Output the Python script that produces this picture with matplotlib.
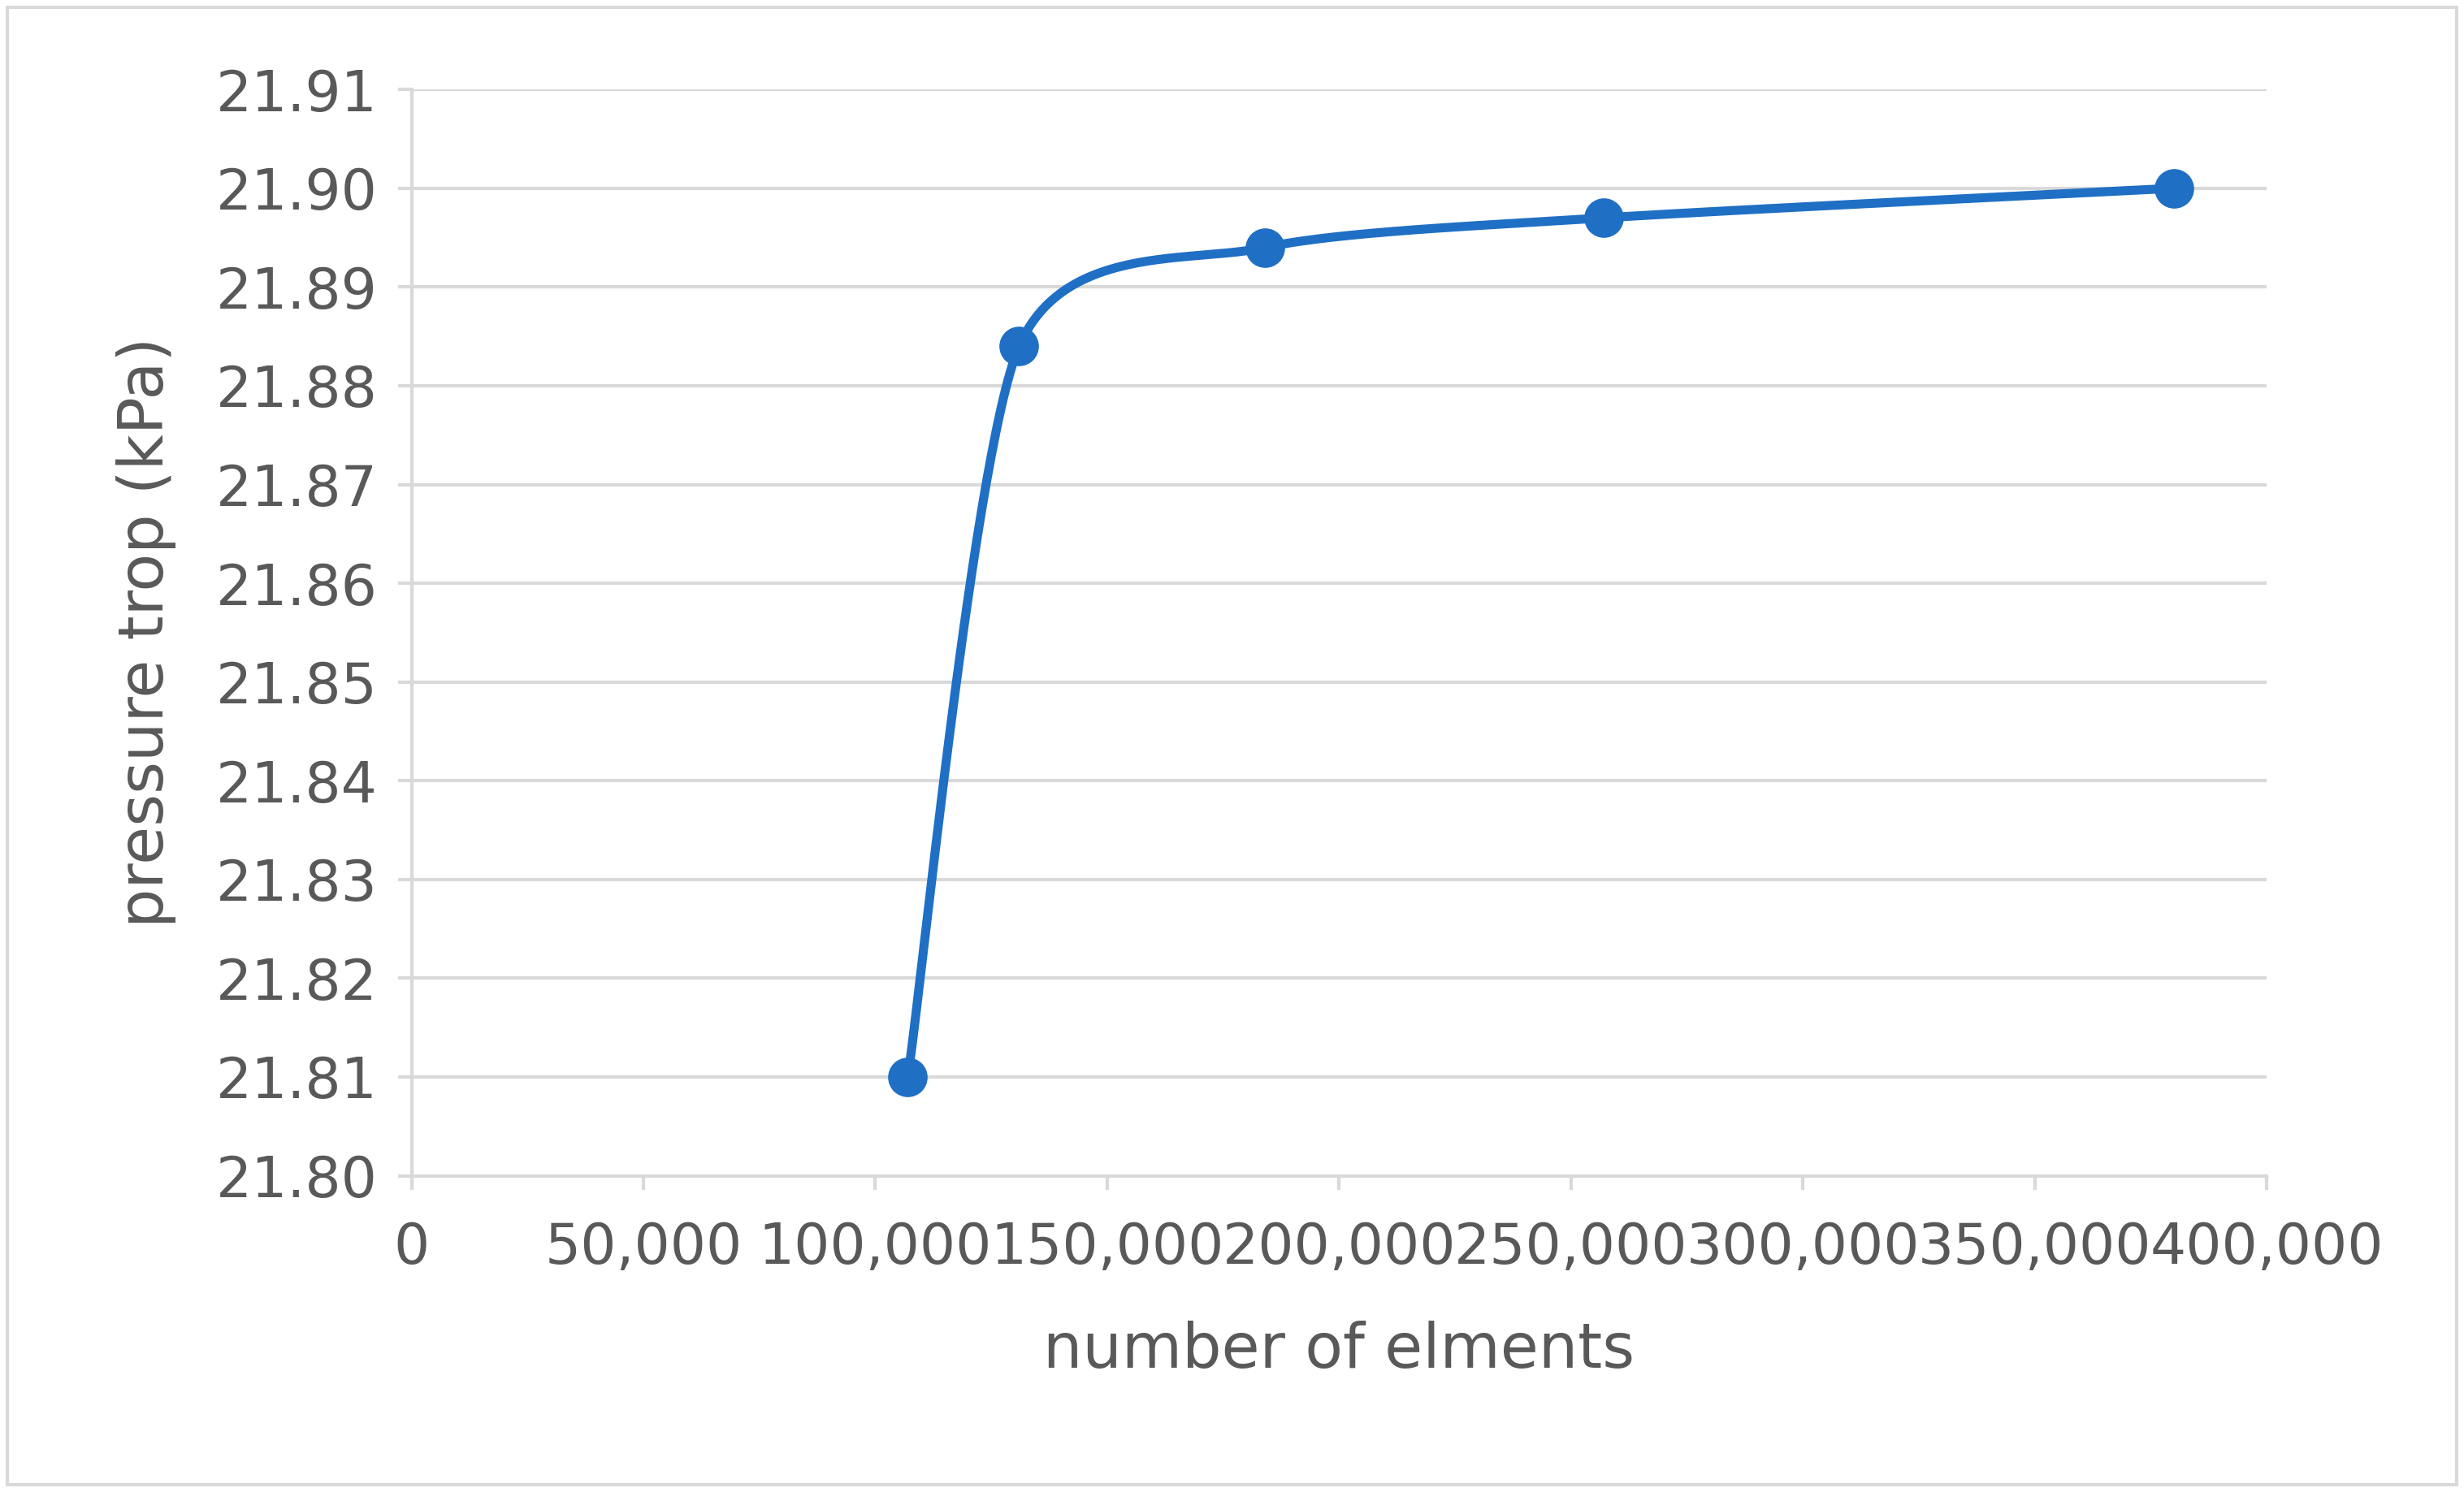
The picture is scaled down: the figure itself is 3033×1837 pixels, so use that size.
import matplotlib
matplotlib.use('Agg')
import matplotlib.pyplot as plt
from matplotlib.ticker import FuncFormatter, MultipleLocator
import numpy as np

elements = [107000, 131000, 184000, 257000, 380000]
pressure = [21.810, 21.884, 21.894, 21.897, 21.900]


def catmull_rom(xs, ys, n=60):
    """Excel-like smoothed line through the points."""
    px = [xs[0]] + list(xs) + [xs[-1]]
    py = [ys[0]] + list(ys) + [ys[-1]]
    out_x, out_y = [], []
    t = np.linspace(0, 1, n)
    for i in range(1, len(px) - 2):
        for p, out in ((px, out_x), (py, out_y)):
            p0, p1, p2, p3 = p[i - 1], p[i], p[i + 1], p[i + 2]
            c1 = p1 + (p2 - p0) / 8
            c2 = p2 - (p3 - p1) / 8
            out.extend((1 - t) ** 3 * p1 + 3 * (1 - t) ** 2 * t * c1
                       + 3 * (1 - t) * t ** 2 * c2 + t ** 3 * p2)
    return out_x, out_y


gray = '#595959'
blue = '#1F6FC5'

fig = plt.figure(figsize=(30.33, 18.37), dpi=100)
ax = fig.add_axes([0.167, 0.212, 0.753, 0.728])

sx, sy = catmull_rom(elements, pressure)
ax.plot(sx, sy, color=blue, linewidth=8, solid_capstyle='round', zorder=3)
ax.plot(elements, pressure, 'o', color=blue, markersize=34, zorder=4)

ax.set_xlim(0, 400000)
ax.set_ylim(21.80, 21.91)
ax.xaxis.set_major_locator(MultipleLocator(50000))
ax.yaxis.set_major_locator(MultipleLocator(0.01))
ax.xaxis.set_major_formatter(FuncFormatter(lambda v, _: f"{v:,.0f}"))
ax.yaxis.set_major_formatter(FuncFormatter(lambda v, _: f"{v:.2f}"))

ax.grid(axis='y', color='#D9D9D9', linewidth=3)
ax.set_axisbelow(True)
for s in ('top', 'right'):
    ax.spines[s].set_visible(False)
for s in ('left', 'bottom'):
    ax.spines[s].set_color('#D9D9D9')
    ax.spines[s].set_linewidth(3)
ax.tick_params(axis='both', colors=gray, labelsize=50, length=12, width=3,
               direction='out')
ax.tick_params(axis='x', pad=28)
ax.tick_params(axis='y', pad=18)
ax.tick_params(axis='both', color='#D9D9D9')

ax.set_xlabel('number of elments', fontsize=55, color=gray, labelpad=40)
ax.set_ylabel('pressure trop (kPa)', fontsize=55, color=gray, labelpad=35)

fig.patches.append(plt.Rectangle((0.003, 0.005), 0.994, 0.99, transform=fig.transFigure,
                                 fill=False, edgecolor='#D9D9D9', linewidth=3))

fig.savefig('out.png', dpi=100)
